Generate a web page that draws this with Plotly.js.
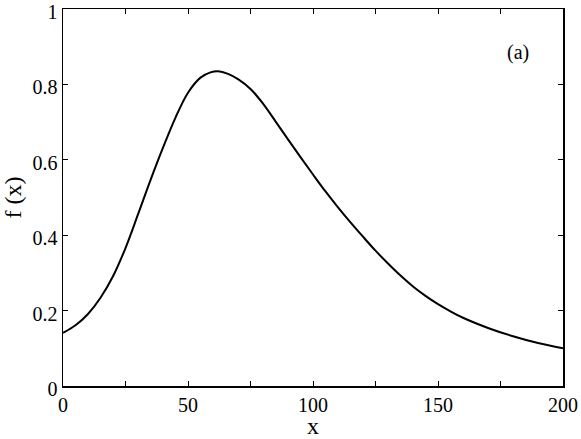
<!DOCTYPE html>
<html>
<head>
<meta charset="utf-8">
<script src="https://cdn.plot.ly/plotly-3.0.1.min.js"></script>
<style>
  html, body { margin: 0; padding: 0; background: #fff; }
  #graph { width: 581px; height: 439px; }
</style>
</head>
<body>
<div id="graph"></div>
<script>
// values
let xs = [0, 5, 10, 15, 20, 25, 30, 35, 40, 45, 50, 55, 59, 62, 66, 70, 75, 80, 85, 90, 95,
          100, 105, 110, 115, 120, 125, 130, 135, 140, 145, 150, 155, 160, 170, 180, 190, 200];
let fx = [0.141, 0.161, 0.191, 0.234, 0.291, 0.366, 0.455, 0.546, 0.632, 0.712, 0.778, 0.818, 0.832, 0.835, 0.828, 0.814, 0.788, 0.749, 0.702, 0.654, 0.607,
          0.561, 0.516, 0.474, 0.434, 0.396, 0.359, 0.325, 0.293, 0.264, 0.239, 0.217, 0.198, 0.181, 0.154, 0.132, 0.114, 0.100];

let xTickVals = [0, 25, 50, 75, 100, 125, 150, 175, 200];
let xTickText = ['0', '', '50', '', '100', '', '150', '', '200'];
let yTickVals = [0, 0.2, 0.4, 0.6, 0.8, 1];
let yTickText = ['0', '0.2', '0.4', '0.6', '0.8', '1'];

let panelLabel = '(a)';

function drawGraf() {
    let trace = {
        x: xs,
        y: fx,
        mode: 'lines',
        line: {
            color: 'black',
            width: 2,
            shape: 'spline',
            smoothing: 1
        },
        type: 'scatter',
        hoverinfo: 'none'
    };

    let axisStyle = {
        showgrid: false,
        zeroline: false,
        showline: true,
        linecolor: 'black',
        linewidth: 1.5,
        mirror: 'ticks',
        ticks: 'inside',
        ticklen: 5,
        tickwidth: 1,
        tickcolor: 'black',
        tickmode: 'array',
        ticklabeloverflow: 'allow'
    };

    let layout = {
        width: 581,
        height: 439,
        margin: {l: 63, r: 18, t: 9, b: 53},
        paper_bgcolor: 'white',
        plot_bgcolor: 'white',
        showlegend: false,
        font: {family: '"Liberation Serif", "Times New Roman", serif', size: 20, color: 'black'},
        xaxis: Object.assign({}, axisStyle, {
            range: [0, 200],
            tickvals: xTickVals,
            ticktext: xTickText,
            title: {text: 'x', standoff: 4}
        }),
        yaxis: Object.assign({}, axisStyle, {
            range: [0, 1],
            tickvals: yTickVals,
            ticktext: yTickText,
            ticklabelshift: 3,
            title: {text: 'f (x)', standoff: 6}
        }),
        annotations: [{
            x: 182,
            y: 0.885,
            xref: 'x',
            yref: 'y',
            text: panelLabel,
            showarrow: false,
            font: {size: 20}
        }]
    };

    Plotly.newPlot('graph', [trace], layout, {staticPlot: true});
}

drawGraf();
</script>
</body>
</html>
